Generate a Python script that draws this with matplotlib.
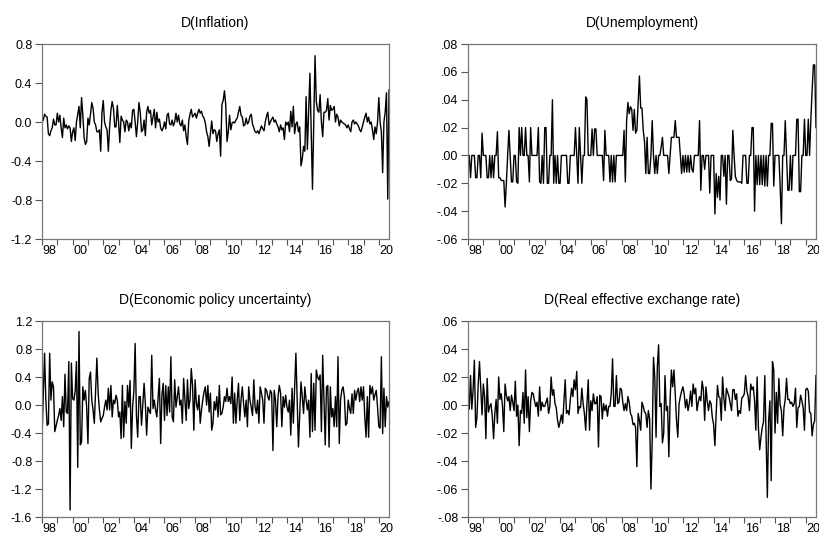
import numpy as np
import matplotlib
matplotlib.use('Agg')
import matplotlib.pyplot as plt

'''Four differenced monthly series, 1998M01 - 2020M09, EViews style panels'''

#------------data, one row per year (Jan..Dec)-------------
inflation = [
  0.0, 0.02, 0.08, 0.06, 0.05, -0.12, -0.14, -0.09, -0.06, 0.03, -0.03, -0.03,
  0.09, 0.0, 0.07, -0.06, -0.16, 0.04, -0.06, -0.03, -0.07, -0.04, -0.06, -0.2,
  -0.1, -0.06, -0.19, 0.0, 0.08, 0.16, -0.06, 0.25, 0.07, -0.16, -0.23, -0.2,
  0.04, -0.03, 0.08, 0.2, 0.14, 0.0, -0.03, -0.1, -0.1, -0.08, -0.3, 0.1,
  0.22, 0.0, -0.05, -0.08, -0.3, -0.05, 0.12, 0.21, 0.14, -0.05, -0.05, 0.17,
  0.0, -0.21, 0.06, 0.02, 0.0, -0.1, 0.02, 0.0, -0.09, -0.01, -0.06, 0.12,
  0.13, 0.0, -0.15, 0.0, 0.2, 0.1, -0.1, -0.08, 0.02, -0.14, 0.1, 0.16,
  0.09, 0.12, -0.03, 0.05, 0.13, -0.06, 0.1, 0.0, 0.03, -0.06, -0.09, -0.06,
  0.0, -0.07, 0.07, 0.09, -0.02, -0.03, 0.02, -0.04, 0.0, 0.09, 0.0, 0.07,
  -0.02, -0.04, 0.02, -0.09, -0.03, -0.15, -0.23, 0.01, 0.08, 0.13, 0.05, 0.07,
  0.09, 0.04, 0.09, 0.13, 0.09, 0.11, 0.06, 0.04, -0.01, -0.1, -0.15, -0.25,
  -0.12, 0.01, -0.12, -0.08, -0.09, -0.2, -0.12, -0.08, -0.35, 0.18, 0.22, 0.32,
  0.18, -0.2, -0.1, 0.07, -0.08, -0.01, 0.0, -0.01, 0.02, 0.04, 0.1, 0.16,
  0.07, 0.05, -0.04, -0.03, 0.04, -0.02, 0.0, 0.06, 0.08, -0.02, -0.06, -0.1,
  -0.11, -0.09, -0.12, -0.08, -0.04, -0.07, -0.09, 0.0, 0.06, 0.1, -0.03, 0.0,
  0.03, 0.05, 0.0, 0.02, -0.02, -0.05, -0.1, -0.03, -0.08, -0.06, -0.18, 0.0,
  -0.03, 0.0, -0.1, 0.11, -0.05, 0.16, -0.12, -0.02, 0.0, -0.1, -0.05, -0.45,
  -0.38, -0.25, -0.3, 0.26, -0.28, 0.1, 0.5, -0.1, -0.69, 0.0, 0.68, 0.21,
  0.12, 0.1, 0.28, 0.0, -0.15, 0.1, 0.1, 0.12, 0.24, 0.02, 0.17, 0.12,
  0.13, 0.16, 0.0, 0.08, 0.05, -0.04, 0.02, 0.0, -0.01, -0.02, -0.03, -0.06,
  -0.03, -0.07, -0.1, 0.0, 0.02, -0.02, 0.0, -0.02, -0.04, -0.08, -0.1, -0.05,
  0.0, 0.05, 0.09, 0.0, 0.05, -0.02, 0.0, -0.08, -0.18, -0.05, -0.12, 0.0,
  0.25, 0.0, -0.1, -0.52, 0.0, 0.1, 0.3, -0.79, 0.33]

unemployment = [
  0, 0, -0.016, 0, 0, 0, -0.016, -0.016, 0, 0, -0.016, 0.016,
  0, 0, 0, -0.016, -0.016, 0, -0.016, 0, -0.016, 0, 0, 0.017,
  -0.016, -0.016, -0.018, -0.018, -0.018, -0.037, -0.02, 0, 0.018, 0, -0.019, -0.019,
  0, 0, -0.019, -0.02, 0.02, 0, 0.02, 0, 0, 0.02, 0, 0,
  -0.019, 0.02, 0, 0, 0, 0, 0, 0.02, -0.019, -0.02, 0, -0.02,
  0.02, 0.02, -0.02, -0.02, 0, 0, 0.04, -0.02, 0, -0.02, 0, -0.02,
  -0.02, 0, 0, 0, 0, 0, -0.02, -0.02, 0, 0, 0, 0,
  0.02, 0, -0.02, 0.02, 0, -0.02, 0, 0, 0.042, 0.04, 0, 0,
  0, 0.019, 0, 0.019, 0.019, 0, 0, 0, 0, 0, -0.018, 0.018,
  0, 0, 0, -0.019, 0, -0.019, 0, -0.019, 0, 0, 0, 0,
  0, 0, 0.018, -0.019, 0.025, 0.038, 0.03, 0.035, 0.033, 0.018, 0.033, 0.016,
  0.018, 0.038, 0.057, 0.034, 0.034, 0.018, 0.01, -0.013, 0.013, -0.013, -0.013, 0,
  0.025, 0, -0.013, 0, -0.013, 0, 0, 0.006, 0.013, 0, 0, 0,
  0, -0.013, 0, 0.013, 0.013, 0.013, 0.025, 0.013, 0.013, 0.013, 0, -0.013,
  0, -0.012, 0, -0.012, 0, -0.012, 0, -0.01, -0.012, 0, 0, 0,
  0, 0.025, -0.025, 0, 0, -0.01, 0, 0, 0, -0.027, 0, 0,
  0, -0.042, -0.013, -0.03, -0.015, -0.032, 0, 0, -0.015, 0, -0.035, 0,
  0, -0.018, -0.017, 0.018, 0, -0.015, -0.018, -0.019, -0.019, -0.019, -0.02, 0,
  0, 0, -0.02, -0.02, 0, 0, 0.02, 0.02, -0.04, 0, -0.021, 0,
  -0.021, 0, -0.021, 0, -0.022, 0, -0.022, 0, 0, 0.023, 0.023, -0.022,
  0, 0, 0, 0, -0.022, -0.049, 0, 0, 0.025, 0, -0.025, -0.025,
  0, -0.025, 0, 0, 0, 0.026, 0.026, -0.026, -0.026, 0, 0, 0.026,
  0, 0, 0.026, 0, 0.026, 0.047, 0.065, 0.065, 0.02]

epu = [
  -0.46, 0.15, 0.74, 0.07, -0.29, -0.27, 0.74, 0.07, 0.33, 0.26, -0.38, -0.3,
  -0.22, -0.15, -0.05, -0.22, 0.12, -0.31, 0.44, -0.1, -0.12, 0.62, -1.5, 0.6,
  0.09, 0.07, 0.2, 0.62, -0.89, 1.05, -0.57, -0.53, 0.26, 0.07, 0.21, -0.03,
  -0.55, 0.38, 0.47, 0.07, -0.07, -0.26, 0.21, 0.67, 0.17, -0.07, -0.24, -0.19,
  -0.15, -0.03, 0.07, -0.07, 0.24, -0.07, 0.28, -0.17, 0.07, 0.02, 0.14, 0.07,
  -0.17, -0.1, -0.48, 0.28, -0.46, 0.05, -0.26, 0.28, -0.03, 0.35, -0.62, -0.03,
  0.2, 0.88, -0.15, -0.46, 0.12, 0.12, -0.29, 0.02, 0.31, 0.02, -0.43, -0.03,
  -0.08, -0.12, 0.71, -0.05, 0.07, -0.07, -0.17, 0.1, 0.38, -0.55, 0.14, 0.31,
  -0.22, 0.28, -0.15, 0.26, -0.1, 0.69, -0.17, -0.24, 0.36, -0.03, 0.12, 0.26,
  0.0, 0.07, -0.26, 0.38, 0.07, -0.22, 0.36, -0.05, 0.07, 0.52, 0.28, -0.36,
  0.36, 0.02, -0.07, 0.14, -0.26, -0.07, 0.07, 0.19, 0.26, 0.0, 0.28, -0.1,
  0.17, -0.36, -0.26, 0.05, -0.07, 0.12, -0.17, 0.28, -0.14, -0.12, -0.03, 0.12,
  0.05, 0.24, 0.05, 0.12, 0.02, 0.4, -0.26, 0.17, -0.26, 0.07, 0.31, -0.22,
  0.07, 0.26, 0.02, -0.17, 0.07, -0.31, 0.26, 0.07, -0.03, -0.15, 0.36, -0.03,
  -0.12, 0.07, -0.26, 0.26, 0.17, 0.07, -0.26, 0.24, 0.21, 0.12, 0.07, 0.21,
  0.17, -0.65, 0.21, 0.07, -0.31, 0.12, 0.28, 0.17, -0.31, 0.12, -0.03, 0.14,
  -0.03, -0.1, 0.07, -0.43, 0.24, -0.26, 0.26, 0.74, 0.07, -0.6, -0.12, 0.33,
  0.12, -0.12, 0.26, 0.07, -0.07, 0.07, -0.46, 0.45, -0.38, 0.31, -0.36, 0.5,
  0.4, 0.36, 0.43, -0.38, 0.71, 0.07, -0.57, 0.26, 0.28, -0.6, 0.26, -0.17,
  -0.05, -0.31, 0.12, -0.31, 0.69, -0.55, 0.07, 0.21, 0.26, 0.12, -0.29, -0.26,
  0.07, -0.05, -0.12, 0.16, -0.12, 0.21, 0.07, 0.19, 0.24, 0.05, 0.26, 0.07,
  0.26, -0.17, -0.46, 0.12, -0.46, 0.28, 0.16, 0.26, 0.07, 0.15, 0.21, -0.03,
  -0.31, -0.33, 0.69, -0.41, 0.24, -0.31, 0.12, -0.03, 0.05]

reer = [
  0.008, -0.003, 0.021, -0.003, 0.011, 0.032, -0.016, -0.009, 0.015, 0.031, 0.012, -0.007,
  0.015, 0.006, -0.024, 0.019, -0.005, -0.001, 0.001, -0.008, -0.024, -0.006, 0.004, -0.013,
  0.02, 0.004, 0.008, -0.001, -0.019, 0.015, 0.007, 0.003, 0.006, -0.004, 0.007, 0.002,
  -0.004, 0.017, -0.008, 0.0, -0.029, -0.004, -0.006, 0.009, -0.013, 0.025, -0.009, 0.006,
  -0.019, 0.003, 0.009, 0.008, 0.003, -0.001, 0.002, -0.008, 0.013, -0.004, 0.002, -0.001,
  -0.001, 0.002, 0.005, -0.006, -0.001, 0.02, 0.007, 0.011, 0.001, -0.002, -0.011, -0.016,
  -0.012, -0.007, -0.013, 0.003, 0.018, -0.006, -0.004, -0.007, 0.004, 0.012, 0.006, 0.018,
  0.011, 0.024, -0.006, -0.001, -0.002, 0.012, 0.001, -0.006, -0.018, 0.001, 0.018, -0.018,
  0.003, -0.004, 0.008, 0.001, 0.001, 0.006, -0.03, 0.007, 0.006, -0.01, 0.001, -0.004,
  0.0, -0.008, -0.001, -0.001, 0.008, 0.033, -0.001, -0.001, 0.021, 0.001, 0.002, 0.012,
  0.011, 0.002, -0.004, 0.001, -0.004, 0.006, 0.002, -0.006, -0.008, -0.014, -0.013, -0.016,
  -0.044, -0.006, -0.011, -0.018, 0.002, -0.001, -0.005, -0.006, -0.016, -0.004, -0.01, -0.06,
  -0.025, 0.034, 0.02, -0.023, 0.027, 0.043, -0.001, 0.001, -0.027, -0.02, 0.021, -0.004,
  -0.001, -0.037, 0.004, 0.025, 0.013, 0.025, 0.008, -0.011, -0.023, 0.001, 0.006, 0.01,
  0.013, 0.008, -0.002, 0.004, -0.004, 0.001, 0.01, -0.001, 0.015, 0.008, 0.012, -0.004,
  0.002, 0.006, 0.003, 0.017, 0.011, -0.011, 0.013, 0.003, -0.004, 0.003, 0.001, -0.009,
  -0.014, -0.029, -0.006, 0.014, 0.006, 0.005, -0.011, 0.02, 0.005, -0.004, 0.012, 0.009,
  0.006, 0.001, -0.004, 0.011, 0.011, 0.004, 0.008, -0.008, -0.004, -0.006, 0.005, 0.006,
  0.008, 0.021, 0.01, 0.006, -0.004, 0.015, 0.011, 0.013, 0.003, -0.018, 0.02, -0.016,
  -0.032, -0.023, -0.016, -0.012, 0.021, -0.023, -0.066, -0.011, 0.003, -0.054, 0.031, 0.025,
  -0.02, 0.009, -0.013, 0.019, 0.0, -0.004, -0.022, -0.002, 0.004, 0.019, 0.004, 0.004,
  0.001, 0.002, -0.001, 0.001, 0.012, -0.016, -0.002, -0.001, 0.007, 0.003, -0.002, -0.018,
  0.011, 0.012, 0.01, -0.005, -0.006, -0.022, -0.014, -0.011, 0.021]

titles = ['D(Inflation)', 'D(Unemployment)',
          'D(Economic policy uncertainty)', 'D(Real effective exchange rate)']
year_labels = ['98', '00', '02', '04', '06', '08', '10', '12', '14', '16', '18', '20']
start_year = 1998

plt.rcParams['font.family'] = ['Liberation Sans', 'DejaVu Sans']

def fmt_tick(v, dec):
  v = round(v, 6) + 0.0             # kill the -0.0 coming out of arange
  if abs(v) < 1e-9:
    v = 0.0
  s = '%.*f' % (dec, v)
  if dec == 2:                      # eviews drops the leading zero: .04 / -.02
    s = s.replace('0.', '.', 1)
  return s

def draw_panel(ax, series, title, lo, hi, step, dec):
  x = start_year + np.arange(len(series)) / 12.0
  ax.plot(x, series, color='black', lw=1.0)
  ax.set_xlim(x[0], x[-1])
  ax.set_ylim(lo, hi)
  yt = np.arange(lo, hi + step / 2, step)
  ax.set_yticks(yt)
  ax.set_yticklabels([fmt_tick(v, dec) for v in yt])
  # year ticks at Jan, labels centred in every second year
  ax.set_xticks(np.arange(start_year, 2021))
  ax.set_xticklabels([])
  ax.set_xticks(np.arange(start_year, 2021, 2) + 0.5, minor=True)
  ax.set_xticklabels(year_labels, minor=True)
  ax.tick_params(axis='x', which='minor', length=0, pad=4, labelsize=9)
  ax.tick_params(axis='x', which='major', length=4, width=0.8, color='#555555')
  ax.tick_params(axis='y', length=5, width=0.8, color='#555555', pad=2, labelsize=9)
  for sp in ax.spines.values():
    sp.set_color('#777777')
    sp.set_linewidth(0.9)
  ax.set_title(title, fontsize=10, pad=12)

fig = plt.figure(figsize=(8.19, 5.36), dpi=100)
ax1 = fig.add_axes([0.0513, 0.5541, 0.4237, 0.3638])
ax2 = fig.add_axes([0.5714, 0.5541, 0.4249, 0.3638])
ax3 = fig.add_axes([0.0513, 0.0354, 0.4237, 0.3657])
ax4 = fig.add_axes([0.5714, 0.0354, 0.4249, 0.3657])

draw_panel(ax1, inflation, titles[0], -1.2, 0.8, 0.4, 1)
draw_panel(ax2, unemployment, titles[1], -0.06, 0.08, 0.02, 2)
draw_panel(ax3, epu, titles[2], -1.6, 1.2, 0.4, 1)
draw_panel(ax4, reer, titles[3], -0.08, 0.06, 0.02, 2)

fig.savefig('out.png', dpi=100)
